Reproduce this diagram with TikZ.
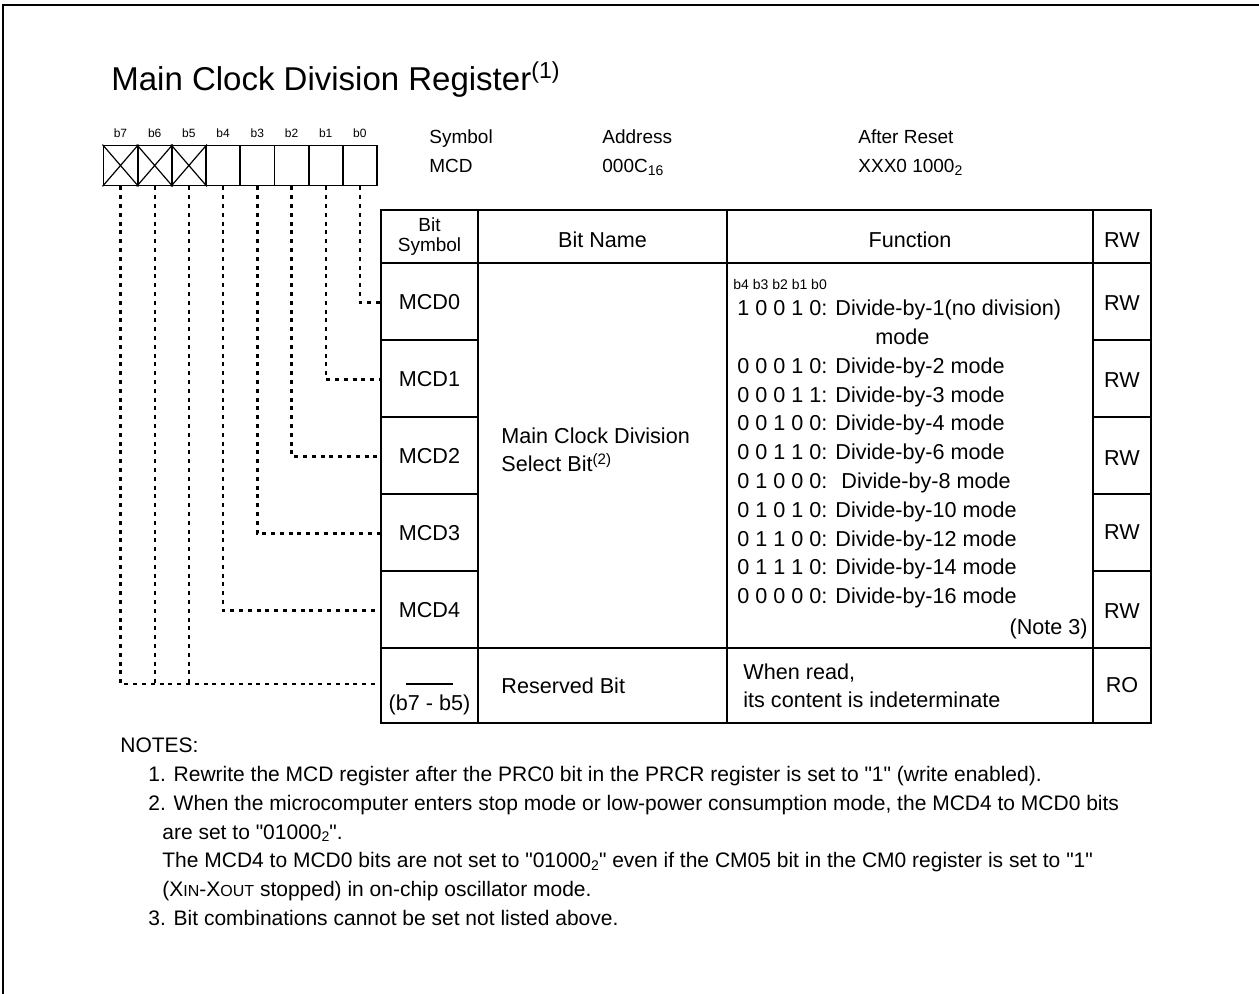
\documentclass[tikz,border=0pt]{standalone}
\usepackage{fontspec}
\setmainfont{Liberation Sans}
\usetikzlibrary{calc}
\newcommand{\lowsub}[1]{\raisebox{-0.25ex}{\fontsize{7}{8}\selectfont #1}}
\newcommand{\upnote}[1]{\textsuperscript{(#1)}}
\newcommand{\smcap}[1]{{\fontsize{8}{9}\selectfont #1}}
\newcommand{\qt}[1]{\textquotedbl #1\textquotedbl}

\begin{document}
\begin{tikzpicture}[x=0.5pt,y=-0.5pt]
	\tikzstyle{every node}=[inner sep=0pt, font=\fontsize{10.8}{14.4}\selectfont]
	\tikzstyle{bitcell}=[draw, line width=0.9pt, minimum width=17.1pt, minimum height=20pt]
	\tikzstyle{symcell}=[minimum width=48.5pt, minimum height=38.5pt]
	\tikzstyle{link}=[line width=1.2pt, dash pattern=on 2pt off 2.4pt]
	\tikzstyle{small}=[font=\fontsize{9.5}{10}\selectfont]
	\tikzstyle{tiny}=[font=\fontsize{6}{7}\selectfont]
	\tikzstyle{notetext}=[anchor=base west, font=\fontsize{10.5}{12}\selectfont]
	\useasboundingbox (0,0) rectangle (1259,994);
	\draw[line width=1.2pt] (3,994) -- (3,5) -- (1259,5);
	
	\node[anchor=base west, font=\fontsize{16.5}{18}\selectfont] (title) at (111,91) {Main Clock Division Register\upnote{1}};
	
	% bit boxes
	\foreach \i in {0,...,7}{
		\node[bitcell] (b\i) at ({359.9-34.2*\i},165.5) {};
		\node[tiny, anchor=base] (l\i) at ({359.9-34.2*\i},137.5) {b\i};
	}
	\foreach \i in {5,6,7}
		\draw[line width=0.6pt] (b\i.north west) -- (b\i.south east) (b\i.north east) -- (b\i.south west);
	
	\node[small, anchor=base west] (symh) at (429,143.5) {Symbol};
	\node[small, anchor=base west] (symv) at (429,172.5) {MCD};
	\node[small, anchor=base west] (addrh) at (602,143.5) {Address};
	\node[small, anchor=base west] (addrv) at (602,172.5) {000C\lowsub{16}};
	\node[small, anchor=base west] (rsth) at (858,143.5) {After Reset};
	\node[small, anchor=base west] (rstv) at (858,172.5) {XXX0 1000\lowsub{2}};
	
	% table
	\draw[line width=1pt] (381,210) rectangle (1151,723);
	\draw[line width=0.6pt] (381,263) -- (1151,263) (381,648) -- (1151,648);
	\draw[line width=0.6pt] (478,210) -- (478,723) (727,210) -- (727,723) (1093,210) -- (1093,723);
	\foreach \y in {340,417,494,571}
		\draw[line width=0.6pt] (381,\y) -- (478,\y) (1093,\y) -- (1151,\y);
	
	\node[small, align=center] (hbit) at (429.5,237) {Bit\\Symbol};
	\node (hname) at (602.5,240) {Bit Name};
	\node (hfunc) at (910,240) {Function};
	\node (hrw) at (1122,240) {RW};
	
	\foreach \i in {0,...,4}
		\node[symcell] (mcd\i) at (429.5,{302.5+77*\i}) {MCD\i};
	\coordinate (rsv) at (381,684);
	\draw[line width=0.6pt] (406,684) -- (453,684);
	\node (rsvsym) at (429.5,705) {(b7 - b5)};
	
	\node[anchor=base west] (bname1) at (501,443.5) {Main Clock Division};
	\node[anchor=base west] (bname2) at (501,472) {Select Bit\upnote{2}};
	\node[anchor=base west] (rsvname) at (501,693.5) {Reserved Bit};
	
	% function column
	\node[font=\fontsize{7}{8}\selectfont, anchor=base west] (fbits) at (733,290) {b4 b3 b2 b1 b0};
	\node[anchor=base west] (f0) at (737,315.7) {1 0 0 1 0: Divide-by-1(no division)};
	\node[anchor=base west] (fmode) at (875,344.5) {mode};
	\foreach \txt [count=\k] in {{0 0 0 1 0: Divide-by-2 mode},{0 0 0 1 1: Divide-by-3 mode},{0 0 1 0 0: Divide-by-4 mode},{0 0 1 1 0: Divide-by-6 mode},{0 1 0 0 0: \ Divide-by-8 mode},{0 1 0 1 0: Divide-by-10 mode},{0 1 1 0 0: Divide-by-12 mode},{0 1 1 1 0: Divide-by-14 mode},{0 0 0 0 0: Divide-by-16 mode}}
		\node[anchor=base west] (f\k) at (737,{344.5+28.8*\k}) {\txt};
	\node[anchor=base east] (note3) at (1088,634.7) {(Note 3)};
	\node[anchor=base west] (rsvf1) at (743,679.7) {When read,};
	\node[anchor=base west] (rsvf2) at (743,707.7) {its content is indeterminate};
	
	\foreach \y/\k in {303/0,380/1,458/2,532/3,611/4}
		\node (rw\k) at (1122,\y) {RW};
	\node (ro) at (1122,685) {RO};
	
	% dotted links
	\foreach \i in {0,...,4}
		\draw[link] (b\i.south) |- (mcd\i.west);
	\draw[link] (b7.south) |- (rsv);
	\foreach \i in {5,6}
		\draw[link] (b\i.south) -- (b\i.south |- rsv);
	
	% notes
	\node[notetext] (notes) at (120,752.7) {NOTES:};
	\node[notetext] (n1) at (148,781.5) {1. Rewrite the MCD register after the PRC0 bit in the PRCR register is set to \qt{1} (write enabled).};
	\node[notetext] (n2) at (148,810.3) {2. When the microcomputer enters stop mode or low-power consumption mode, the MCD4 to MCD0 bits};
	\node[notetext] (n2b) at (162,839.1) {are set to \qt{01000\lowsub{2}}.};
	\node[notetext] (n2c) at (162,867.9) {The MCD4 to MCD0 bits are not set to \qt{01000\lowsub{2}} even if the CM05 bit in the CM0 register is set to \qt{1}};
	\node[notetext] (n2d) at (162,896.7) {(X\smcap{IN}-X\smcap{OUT} stopped) in on-chip oscillator mode.};
	\node[notetext] (n3) at (148,925.5) {3. Bit combinations cannot be set not listed above.};
\end{tikzpicture}
\end{document}
